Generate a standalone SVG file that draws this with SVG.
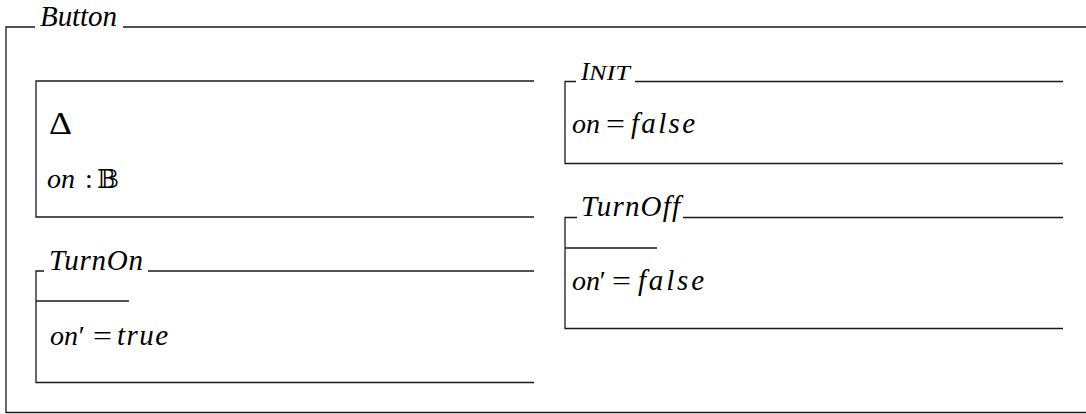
<svg xmlns="http://www.w3.org/2000/svg" width="1086" height="414" viewBox="0 0 1086 414">
  <style>
    .frame { fill: none; stroke: #1a1a1a; stroke-width: 1.3; }
    .mi { font-family: "Liberation Serif", "Times New Roman", serif; font-style: italic; font-size: 28px; fill: #000; }
    .ttl { font-family: "Liberation Serif", "Times New Roman", serif; font-style: italic; font-size: 29px; fill: #000; }
    .rm { font-family: "Liberation Serif", "Times New Roman", serif; font-style: normal; font-size: 28px; fill: #000; }
    .bb { font-family: "DejaVu Serif", "DejaVu Sans", serif; font-size: 26px; fill: #000; }
  </style>
  <rect width="1086" height="414" fill="#fff"/>

  <!-- Button schema: outer frame -->
  <g id="button">
    <path class="frame" d="M35 27 H6 V412.5 H1086 M123 27 H1086"/>
    <text class="ttl" x="40" y="26" textLength="77" lengthAdjust="spacing">Button</text>
  </g>

  <!-- Delta state block -->
  <g id="delta">
    <path class="frame" d="M534 81 H36 V217 H534"/>
    <text class="rm" x="49" y="134" style="font-size:31px" textLength="23" lengthAdjust="spacingAndGlyphs">Δ</text>
    <text class="mi" x="47" y="188">on</text>
    <text class="rm" x="85" y="188">:</text>
    <text class="bb" x="97" y="188">𝔹</text>
  </g>

  <!-- TurnOn operation -->
  <g id="turnon">
    <path class="frame" d="M44 271 H36 V382.5 H534 M148 271 H534 M36 301 H129"/>
    <text class="ttl" x="49" y="270" textLength="94" lengthAdjust="spacing">TurnOn</text>
    <text class="mi" x="50" y="345">on</text>
    <text class="mi" x="77" y="345">′</text>
    <text class="rm" x="93" y="345" textLength="19" lengthAdjust="spacingAndGlyphs">=</text>
    <text class="ttl" x="117" y="345" textLength="51" lengthAdjust="spacing">true</text>
  </g>

  <!-- Init schema -->
  <g id="init">
    <path class="frame" d="M576 81.5 H565 V163.5 H1063 M635 81.5 H1063"/>
    <text class="mi" x="581" y="80"><tspan style="font-size:25px">I</tspan><tspan x="589" style="font-size:21px" textLength="41" lengthAdjust="spacingAndGlyphs">NIT</tspan></text>
    <text class="mi" x="572" y="133">on</text>
    <text class="rm" x="606" y="133" textLength="19" lengthAdjust="spacingAndGlyphs">=</text>
    <text class="ttl" x="631" y="133" textLength="64" lengthAdjust="spacing">false</text>
  </g>

  <!-- TurnOff operation -->
  <g id="turnoff">
    <path class="frame" d="M577 217.5 H565 V328.5 H1063 M683 217.5 H1063 M565 248 H657"/>
    <text class="ttl" x="581" y="216" textLength="99" lengthAdjust="spacing">TurnOff</text>
    <text class="mi" x="572" y="290">on</text>
    <text class="mi" x="598" y="290">′</text>
    <text class="rm" x="612" y="290" textLength="19" lengthAdjust="spacingAndGlyphs">=</text>
    <text class="ttl" x="638" y="290" textLength="66" lengthAdjust="spacing">false</text>
  </g>
</svg>
